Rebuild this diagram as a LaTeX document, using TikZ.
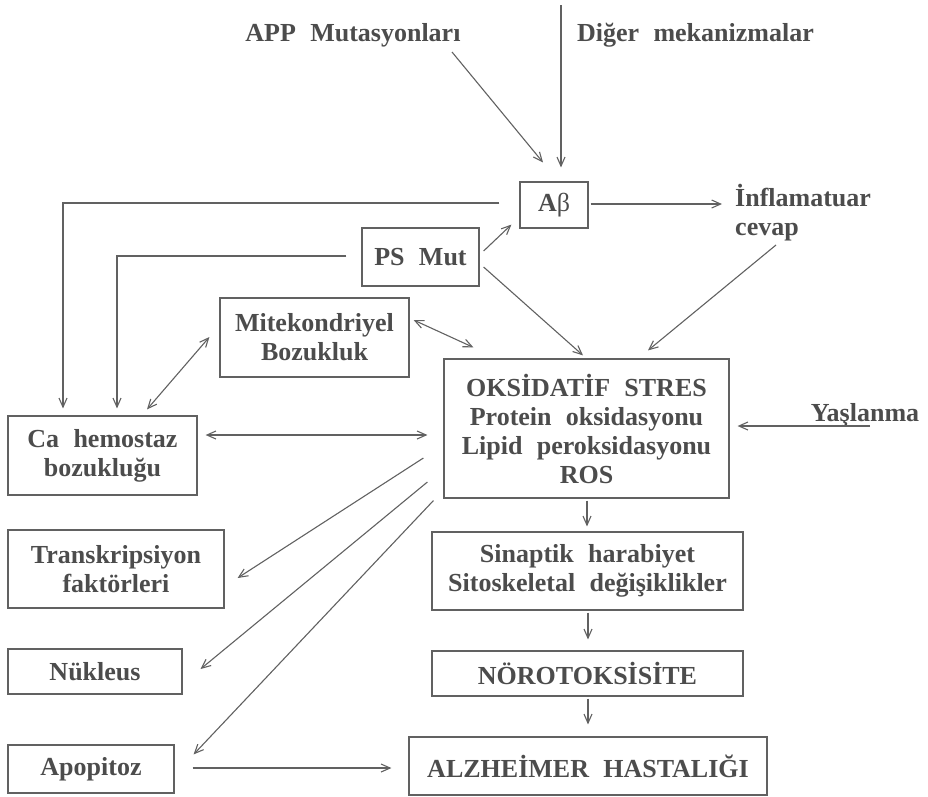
\documentclass[tikz,border=0pt]{standalone}
\usepackage{fontspec}
\setmainfont{Liberation Serif}[WordSpace=2.2]
\usetikzlibrary{arrows.meta,calc}
\definecolor{txt}{gray}{0.3}
\definecolor{ln}{gray}{0.38}
\begin{document}
\begin{tikzpicture}[x=1pt,y=-1pt,
  every node/.style={text=txt,font=\fontsize{26}{29}\selectfont\bfseries},
  box/.style={draw=ln,line width=1.2pt,inner sep=0pt,align=center},
  lbl/.style={inner sep=0pt,align=center},
  conn/.style={draw=ln,line width=1.1pt,-{Straight Barb[length=9pt,width=8pt]}},
  bconn/.style={draw=ln,line width=1.1pt,{Straight Barb[length=9pt,width=8pt]}-{Straight Barb[length=9pt,width=8pt]}},
  plain/.style={draw=ln,line width=1.1pt}]
\useasboundingbox (0,0) rectangle (928,796);
% boxes
\node[box,minimum width=68pt,minimum height=46pt] (ab) at (554,205) {A{\mdseries β}};
\node[box,minimum width=117pt,minimum height=58pt] (ps) at (420.5,257) {PS Mut};
\node[box,minimum width=189pt,minimum height=79pt] (mito) at (314.5,337.5) {Mitekondriyel\\Bozukluk};
\node[box,minimum width=189pt,minimum height=79pt] (ca) at (102.5,455.5) {Ca hemostaz\\bozukluğu};
\node[box,minimum width=285pt,minimum height=139pt] (oks) at (586.5,428.5) {OKSİDATİF STRES\\Protein oksidasyonu\\Lipid peroksidasyonu\\ROS};
\node[box,minimum width=311pt,minimum height=78pt] (sin) at (587.5,571) {Sinaptik harabiyet\\Sitoskeletal değişiklikler};
\node[box,minimum width=311pt,minimum height=45pt] (noro) at (587.5,673.5) {NÖROTOKSİSİTE};
\node[box,minimum width=358pt,minimum height=58pt] (alz) at (588,766) {ALZHEİMER HASTALIĞI};
\node[box,minimum width=216pt,minimum height=78pt] (trans) at (116,569) {Transkripsiyon\\faktörleri};
\node[box,minimum width=174pt,minimum height=45pt] (nuk) at (95,671.5) {Nükleus};
\node[box,minimum width=166pt,minimum height=48pt] (apo) at (91,769) {Apopitoz};
% labels
\node[lbl] (app) at (353,35) {APP Mutasyonları};
\node[lbl] (dig) at (695.5,35) {Diğer mekanizmalar};
\node[lbl,anchor=north west,align=left] (inf) at (735,184) {İnflamatuar\\cevap};
\node[lbl] (yas) at (865,415) {Yaşlanma};
% free ends
\coordinate (dtop) at (561,5);
\coordinate (append) at (452,52);
\coordinate (infin) at (722,204);
\coordinate (infout) at (776,245);
\coordinate (yasout) at (870,426);
% connectors
\draw[conn] (dtop) -- ($(ab.north)+(7,-14)$);
\draw[conn] (append) -- ($(ab.north)+(-11,-19)$);
\draw[conn] ($(ab.east)+(2,-1)$) -- (infin);
\draw[conn] ($(ab.west)+(-20,-2)$) -| ($(ca.north)+(-39.5,-7)$);
\draw[conn] ($(ps.west)+(-15,-1)$) -| ($(ca.north)+(14.5,-7)$);
\draw[conn] ($(ps.east)+(4,-6)$) -- ($(ab.south west)+(-8,-4)$);
\draw[conn] ($(ps.east)+(4,10)$) -- ($(oks.north)+(-3.5,-3)$);
\draw[conn] (infout) -- ($(oks.north)+(61.5,-8)$);
\draw[bconn] ($(mito.east)+(4,-17.5)$) -- ($(oks.north west)+(30,-11)$);
\draw[bconn] ($(ca.north)+(44.5,-6)$) -- ($(mito.west)+(-10,-0.5)$);
\draw[bconn] ($(ca.east)+(8,-20.5)$) -- ($(oks.west)+(-16,6.5)$);
\draw[conn] (yasout) -- ($(oks.east)+(8,-2.5)$);
\draw[conn] ($(oks.west)+(-20,29.5)$) -- ($(trans.east)+(13,9)$);
\draw[conn] ($(oks.west)+(-16,53.5)$) -- ($(nuk.east)+(18,-2.5)$);
\draw[conn] ($(oks.south west)+(-10,2)$) -- ($(apo.north east)+(19,10)$);
\draw[conn] ($(apo.east)+(18,-1)$) -- ($(alz.west)+(-17,2)$);
\draw[conn] ($(oks.south)+(0.5,2)$) -- ($(sin.north)+(-0.5,-5)$);
\draw[conn] ($(sin.south)+(0.5,2)$) -- ($(noro.north)+(0.5,-11)$);
\draw[conn] ($(noro.south)+(0.5,2)$) -- ($(alz.north)+(0,-12)$);
\end{tikzpicture}
\end{document}
